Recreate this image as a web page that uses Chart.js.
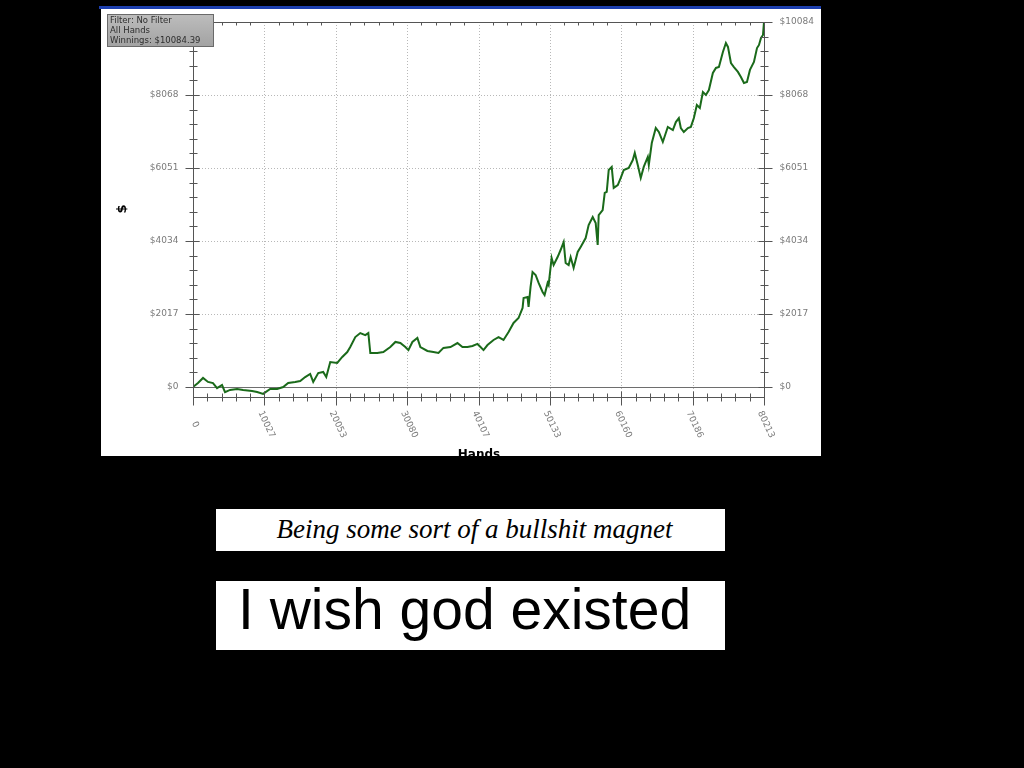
<!DOCTYPE html>
<html>
<head>
<meta charset="utf-8">
<script src="https://cdn.jsdelivr.net/npm/chart.js@4.4.0/dist/chart.umd.min.js"></script>
<style>
  html, body { margin: 0; padding: 0; background: #000; width: 1024px; height: 768px; overflow: hidden; }
  #topbar { position: absolute; left: 99px; top: 6px; width: 722px; height: 4px; background: #1d3fae; }
  #wrap { position: absolute; left: 99px; top: 9px; width: 722px; height: 447px; background: #fff; }
  #wrap canvas { display: block; }
  .cap { position: absolute; background: #fff; }
  #cap1 { left: 216px; top: 509px; width: 509px; height: 42px; }
  #cap1 span { position: absolute; left: 4px; width: 509px; top: 5px; text-align: center;
    font-family: "Liberation Serif", "DejaVu Serif", serif; font-style: italic; font-size: 27px; line-height: 30px; color: #000; }
  #cap2 { left: 216px; top: 581px; width: 509px; height: 69px; }
  #cap2 span { position: absolute; left: 22px; top: 0px; white-space: nowrap;
    font-family: "Liberation Sans", Arial, sans-serif; font-size: 57px; line-height: 56px; color: #000; }
</style>
</head>
<body>
<div id="topbar"></div>
<div id="wrap"><canvas id="c" width="722" height="447"></canvas></div>
<div class="cap" id="cap1"><span>Being some sort of a bullshit magnet</span></div>
<div class="cap" id="cap2"><span>I wish god existed</span></div>
<script>
// ---- data ----
const hands = [0,700,1410,2110,2810,3380,4080,4500,5210,6190,
  7040,8300,9010,9850,10840,11820,12670,13370,14350,15060,
  15760,16460,16890,17590,18290,18720,19280,20260,20970,21670,
  22090,22800,23500,24200,24630,24910,25890,26740,27720,28430,
  29130,29830,30260,30820,31520,31940,32930,33770,34480,35180,
  36170,37150,37850,38560,39260,39960,40390,40810,41370,42220,
  42920,43620,44330,45030,45730,46300,46440,47000,47140,47420,
  47700,48130,48550,49110,49390,49820,49960,50380,50660,51220,
  51640,52070,52350,52770,53050,53470,54040,54460,55160,55580,
  56150,56570,56850,56990,57550,57840,58120,58400,58820,59100,
  59670,60090,60510,61210,61780,62060,62480,62900,63320,63890,
  64030,64450,65010,65440,66000,66700,67410,67830,68250,68530,
  68950,69520,69940,70360,70780,71200,71630,72050,72470,73030,
  73460,73880,74440,74860,75150,75570,75990,76550,76970,77400,
  77820,78240,78800,79230,79510,79790,80070,80213];
const winnings = [0,110,250,140,110,-30,55,-140,-80,-55,
  -80,-110,-140,-190,-55,-55,0,110,140,165,
  275,360,140,385,415,275,690,665,830,965,
  1105,1380,1490,1435,1490,940,940,965,1105,1245,
  1215,1105,1020,1245,1355,1105,995,965,940,1080,
  1105,1215,1105,1105,1135,1190,1105,1020,1160,1300,
  1380,1300,1520,1770,1905,2185,2460,2485,2210,2765,
  3175,3095,2875,2625,2540,2875,2820,3565,3370,3590,
  3785,4005,3425,3370,3590,3290,3730,3870,4115,4475,
  4695,4530,3925,4750,4890,5360,5390,5995,6080,5500,
  5580,5775,5995,6050,6270,6465,6135,5775,6080,6355,
  6135,6740,7155,7045,6770,7185,7100,7320,7430,7155,
  7045,7155,7185,7430,7790,7710,8150,8070,8205,8675,
  8815,8840,9255,9505,9395,8950,8840,8705,8565,8400,
  8425,8760,8980,9365,9450,9645,9725,10084.39];
const xTickValues = [0, 10027, 20053, 30080, 40107, 50133, 60160, 70186, 80213];
const xTickLabels = ['0','10027','20053','30080','40107','50133','60160','70186','80213'];
const yTickValues = [0, 2017, 4034, 6051, 8068, 10084];
const yTickLabels = ['$0','$2017','$4034','$6051','$8068','$10084'];
const legendLines = ['Filter: No Filter', 'All Hands', 'Winnings: $10084.39'];
const xTitle = 'Hands';
const yTitle = '$';

const points = hands.map((h, i) => ({x: h, y: winnings[i]}));

function minorValues(vals) {
  const out = [];
  for (let i = 0; i < vals.length - 1; i++) {
    for (let k = 1; k < 5; k++) out.push(vals[i] + (vals[i+1] - vals[i]) * k / 5);
  }
  return out;
}

const decor = {
  id: 'decor',
  beforeDraw(chart) {
    const ctx = chart.ctx;
    ctx.save();
    ctx.fillStyle = '#fff';
    ctx.fillRect(0, 0, chart.width, chart.height);
    ctx.fillStyle = '#000';
    ctx.fillRect(0, 0, 2, chart.height);
    ctx.restore();
  },
  beforeDatasetsDraw(chart) {
    const ctx = chart.ctx, xs = chart.scales.x, ys = chart.scales.y, a = chart.chartArea;
    const L = xs.getPixelForValue(xTickValues[0]), R = xs.getPixelForValue(xTickValues[xTickValues.length-1]);
    const T = ys.getPixelForValue(yTickValues[yTickValues.length-1]), B = a.bottom;
    ctx.save();
    ctx.strokeStyle = '#b8b8b8';
    ctx.lineWidth = 1;
    ctx.setLineDash([1, 2]);
    for (let i = 1; i < xTickValues.length - 1; i++) {
      const x = Math.round(xs.getPixelForValue(xTickValues[i])) + 0.5;
      ctx.beginPath(); ctx.moveTo(x, T); ctx.lineTo(x, B); ctx.stroke();
    }
    for (let i = 1; i < yTickValues.length - 1; i++) {
      const y = Math.round(ys.getPixelForValue(yTickValues[i])) + 0.5;
      ctx.beginPath(); ctx.moveTo(L, y); ctx.lineTo(R, y); ctx.stroke();
    }
    ctx.setLineDash([]);
    ctx.strokeStyle = '#6e6e6e';
    const y0 = Math.round(ys.getPixelForValue(0)) + 0.5;
    ctx.beginPath(); ctx.moveTo(L, y0); ctx.lineTo(R, y0); ctx.stroke();
    ctx.restore();
  },
  afterDatasetsDraw(chart) {
    const ctx = chart.ctx, xs = chart.scales.x, ys = chart.scales.y, a = chart.chartArea;
    const L = Math.round(xs.getPixelForValue(xTickValues[0])) + 0.5;
    const R = Math.round(xs.getPixelForValue(xTickValues[xTickValues.length-1])) + 0.5;
    const T = Math.round(ys.getPixelForValue(yTickValues[yTickValues.length-1])) + 0.5;
    const B = Math.round(a.bottom) + 0.5;
    ctx.save();
    ctx.strokeStyle = '#555';
    ctx.lineWidth = 1;
    ctx.beginPath();
    ctx.moveTo(L, T); ctx.lineTo(R, T);
    ctx.moveTo(L, T); ctx.lineTo(L, B + 6);
    ctx.moveTo(R, T); ctx.lineTo(R, B + 6);
    ctx.moveTo(L, B); ctx.lineTo(R, B);
    ctx.stroke();
    ctx.beginPath();
    xTickValues.forEach(v => { const x = Math.round(xs.getPixelForValue(v)) + 0.5; ctx.moveTo(x, B - 6); ctx.lineTo(x, B + 8); });
    minorValues(xTickValues).forEach(v => {
      const x = Math.round(xs.getPixelForValue(v)) + 0.5;
      ctx.moveTo(x, B - 4); ctx.lineTo(x, B + 4);
      ctx.moveTo(x, T); ctx.lineTo(x, T + 3);
    });
    yTickValues.forEach(v => { const y = Math.round(ys.getPixelForValue(v)) + 0.5;
      ctx.moveTo(L - 8, y); ctx.lineTo(L + 6, y); ctx.moveTo(R - 6, y); ctx.lineTo(R + 8, y); });
    minorValues(yTickValues).forEach(v => { const y = Math.round(ys.getPixelForValue(v)) + 0.5;
      ctx.moveTo(L - 4, y); ctx.lineTo(L + 4, y); ctx.moveTo(R - 4, y); ctx.lineTo(R + 4, y); });
    ctx.stroke();

    ctx.fillStyle = '#7a7a7a';
    ctx.font = '9px "DejaVu Sans", sans-serif';
    ctx.textBaseline = 'middle';
    yTickValues.forEach((v, i) => {
      const y = ys.getPixelForValue(v);
      ctx.textAlign = 'right'; ctx.fillText(yTickLabels[i], L - 15, y);
      ctx.textAlign = 'left'; ctx.fillText(yTickLabels[i], R + 15, y);
    });
    ctx.textAlign = 'center';
    xTickValues.forEach((v, i) => {
      const x = xs.getPixelForValue(v);
      ctx.save();
      ctx.translate(x + 2, B + 27);
      ctx.rotate(65 * Math.PI / 180);
      ctx.fillText(xTickLabels[i], 0, 0);
      ctx.restore();
    });
    ctx.fillStyle = '#000';
    ctx.font = 'bold 12px "DejaVu Sans", sans-serif';
    ctx.textAlign = 'center';
    ctx.textBaseline = 'alphabetic';
    ctx.fillText(xTitle, (L + R) / 2, chart.height + 2);
    ctx.save();
    ctx.translate(24, (T + B) / 2 - 1);
    ctx.rotate(-Math.PI / 2);
    ctx.textBaseline = 'middle';
    ctx.font = 'bold 13px "DejaVu Sans", sans-serif';
    ctx.fillText(yTitle, 0, 0);
    ctx.restore();

    const bx = 8, by = 5, bw = 107, bh = 33;
    const g = ctx.createLinearGradient(0, by, 0, by + bh);
    g.addColorStop(0, '#bdbdbd'); g.addColorStop(1, '#a2a2a2');
    ctx.fillStyle = g;
    ctx.fillRect(bx, by, bw, bh);
    ctx.strokeStyle = '#6a6a6a';
    ctx.strokeRect(bx + 0.5, by + 0.5, bw - 1, bh - 1);
    ctx.fillStyle = '#2e2e2e';
    ctx.font = '8.5px "DejaVu Sans", sans-serif';
    ctx.textAlign = 'left';
    ctx.textBaseline = 'alphabetic';
    legendLines.forEach((t, i) => ctx.fillText(t, bx + 3, by + 9 + i * 10));
    ctx.restore();
  }
};

new Chart(document.getElementById('c'), {
  type: 'line',
  data: { datasets: [{ data: points, borderColor: '#1a6a1a', borderWidth: 2, pointRadius: 0, tension: 0, fill: false }] },
  options: {
    responsive: false,
    animation: false,
    events: [],
    layout: { padding: { left: 94, right: 57, top: 13, bottom: 59 } },
    plugins: { legend: { display: false }, tooltip: { enabled: false } },
    scales: {
      x: { type: 'linear', min: 0, max: 80213, display: false },
      y: { type: 'linear', min: -276, max: 10084, display: false }
    }
  },
  plugins: [decor]
});
</script>
</body>
</html>
